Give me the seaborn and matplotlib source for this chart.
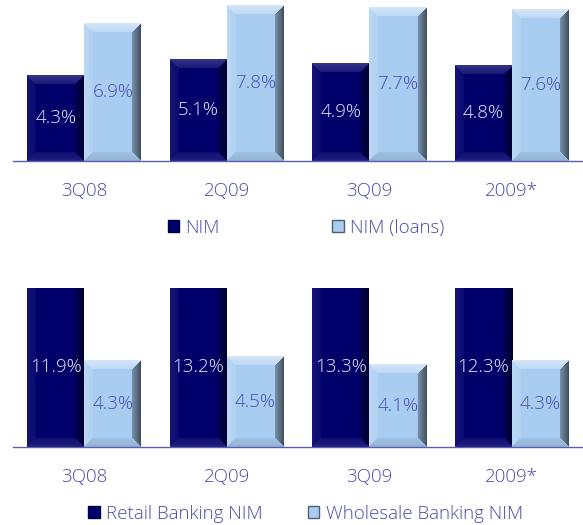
import numpy as np
import pandas as pd
import matplotlib
matplotlib.use('Agg')
import matplotlib.pyplot as plt
import seaborn as sns
from matplotlib.patches import Patch
from matplotlib.colors import to_rgb

# data
periods = ['3Q08', '2Q09', '3Q09', '2009*']
nim = [4.3, 5.1, 4.9, 4.8]
nim_loans = [6.9, 7.8, 7.7, 7.6]
retail_nim = [11.9, 13.2, 13.3, 12.3]
wholesale_nim = [4.3, 4.5, 4.1, 4.3]

dark = '#00006a'
light = '#a9cdf1'
txt = '#4b4bab'
fs = 13.5

sns.set_theme(style='white')
plt.rcParams['font.family'] = ['Open Sans', 'DejaVu Sans']
plt.rcParams['font.weight'] = 'light'

fig = plt.figure(figsize=(5.83, 5.25), dpi=100)
ax_top = fig.add_axes([13 / 583, (525 - 161) / 525, 570 / 583, 161 / 525])
ax_bot = fig.add_axes([13 / 583, (525 - 447) / 525, 570 / 583, 159 / 525])


def bevel(ax, patch, base, amounts, b=9):
    # fake the 3D bevel of the original bars
    x0, y0 = patch.get_x(), patch.get_y()
    w, h = patch.get_width(), patch.get_height()
    (px0, py0), (px1, py1) = ax.transData.transform([(x0, y0), (x0 + w, y0 + h)])
    W, H = max(int(round(px1 - px0)), 2), max(int(round(py1 - py0)), 2)
    ii, jj = np.mgrid[0:H, 0:W]
    d = np.stack([ii, H - 1 - ii, jj, W - 1 - jj])
    face = d.argmin(0)
    dmin = d.min(0)
    shade = np.zeros((H, W))
    band = dmin < b
    t = 1 - dmin / b
    shade[band] = np.array(amounts)[face[band]] * (0.45 + 0.55 * t[band])
    rgb = np.ones((H, W, 3)) * np.array(to_rgb(base))
    s = shade[..., None]
    rgb = np.where(s > 0, rgb + (1 - rgb) * s, rgb * (1 + s))
    ax.imshow(np.clip(rgb, 0, 1), extent=(x0, x0 + w, y0, y0 + h), origin='upper',
              aspect='auto', interpolation='bilinear', zorder=patch.get_zorder() + 0.1)


def panel(ax, s1, s2, names, ymax):
    df = pd.DataFrame({
        'period': periods * 2,
        'value': s1 + s2,
        'series': [names[0]] * 4 + [names[1]] * 4,
    })
    sns.barplot(data=df, x='period', y='value', hue='series', palette=[dark, light],
                saturation=1, width=0.8, ax=ax, legend=False, errorbar=None)
    ax.set_xlim(-0.5, 3.5)
    ax.set_ylim(0, ymax)
    for c, base, amounts, col in zip(ax.containers, [dark, light],
                                     [[0.2, 0.12, 0.08, -0.5], [0.5, -0.12, 0.2, -0.6]],
                                     ['#ececf6', txt]):
        for p in c.patches:
            bevel(ax, p, base, amounts)
        ax.bar_label(c, labels=[f'{v:.1f}%' for v in c.datavalues], label_type='center',
                     color=col, fontsize=fs, zorder=5)
    ax.set_xlim(-0.5, 3.5)
    ax.set_ylim(0, ymax)
    ax.set_xlabel('')
    ax.set_ylabel('')
    ax.set_yticks([])
    ax.tick_params(axis='x', length=0, pad=15, labelsize=fs, labelcolor=txt)
    for side in ['left', 'top', 'right']:
        ax.spines[side].set_visible(False)
    ax.spines['bottom'].set_color('#5c5cb0')
    ax.spines['bottom'].set_linewidth(1)
    ax.patch.set_alpha(0)


panel(ax_top, nim, nim_loans, ['NIM', 'NIM (loans)'], 8.05)
panel(ax_bot, retail_nim, wholesale_nim, ['Retail Banking NIM', 'Wholesale Banking NIM'], 7.87)

leg_kw = dict(ncol=2, frameon=False, fontsize=fs, labelcolor=txt, handlelength=0.6,
              handleheight=0.6, handletextpad=0.35)
fig.legend(handles=[Patch(facecolor=dark, edgecolor='#000040', label='NIM'),
                    Patch(facecolor=light, edgecolor='#506070', label='NIM (loans)')],
           loc='center', bbox_to_anchor=(0.525, 1 - 228 / 525), columnspacing=6.0, **leg_kw)
fig.legend(handles=[Patch(facecolor=dark, edgecolor='#000040', label='Retail Banking NIM'),
                    Patch(facecolor=light, edgecolor='#506070', label='Wholesale Banking NIM')],
           loc='center', bbox_to_anchor=(0.524, 1 - 514 / 525), columnspacing=2.4, **leg_kw)

fig.savefig('out.png', dpi=100)
